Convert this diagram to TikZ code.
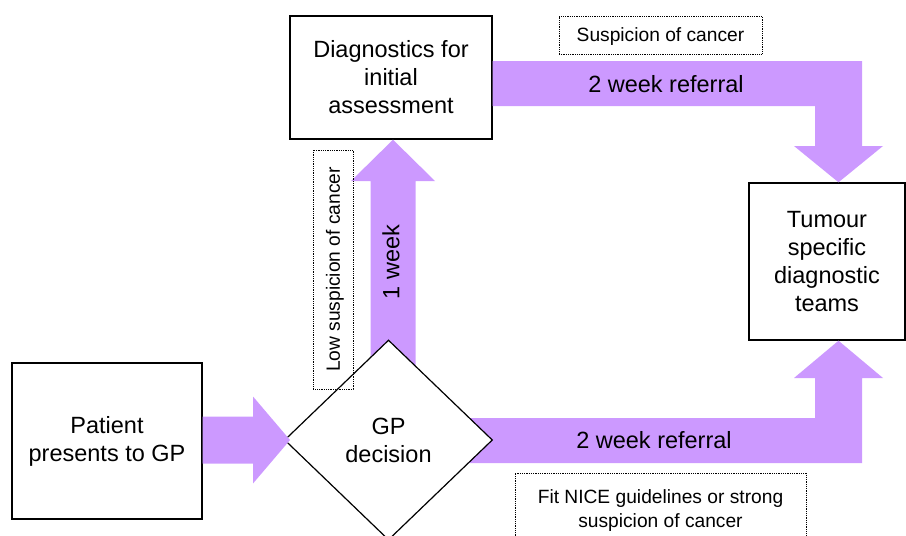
\documentclass[tikz,border=0pt]{standalone}
\usepackage{fontspec}
\setmainfont{Liberation Sans}
\usetikzlibrary{shapes.geometric}
\definecolor{arrowfill}{RGB}{204,153,255}
\tikzset{
  x=1pt, y=-1pt,
  bigtext/.style={font=\fontsize{23.5}{28}\selectfont, align=center},
  smalltext/.style={font=\fontsize{19.2}{24}\selectfont, align=center},
  stagebox/.style={bigtext, draw=black, line width=1.4pt, fill=white,
    inner sep=0pt},
  decisionbox/.style={bigtext, diamond, draw=black, line width=1.2pt,
    fill=white, inner sep=0pt, minimum width=208pt, minimum height=200pt},
  notebox/.style={smalltext, draw=black, densely dotted, line width=0.8pt,
    inner sep=0pt, text depth=0pt},
  blockarrow/.style={fill=arrowfill, draw=none},
}
\begin{document}
\begin{tikzpicture}
\useasboundingbox (0,0) rectangle (906,536);

% stage nodes
\node[stagebox, minimum width=190pt, minimum height=156pt] (patient) at (107,441)
  {Patient\\presents to GP};
\node[stagebox, minimum width=202pt, minimum height=123pt] (diag) at (391,77.5)
  {Diagnostics for\\initial\\assessment};
\node[stagebox, minimum width=156pt, minimum height=157pt] (tumour) at (827,261.5)
  {Tumour\\specific\\diagnostic\\teams};

% block arrows that run behind the decision node
% GP decision -> initial diagnostics (1 week)
\fill[blockarrow] (370.5,380) -- (370.5,181) -- (351,181) -- (diag.south -| 393,0)
  -- (435,181) -- (415.5,181) -- (415.5,380) -- cycle;
% GP decision -> tumour teams (2 week referral)
\fill[blockarrow] (440,463) -- (862,463) -- (862,378) -- (883,378)
  -- (tumour.south -| 838.5,0) -- (794,378) -- (815,378) -- (815,418)
  -- (440,418) -- cycle;
% initial diagnostics -> tumour teams (2 week referral)
\fill[blockarrow] (diag.east |- 0,61) -- (862,61) -- (862,146) -- (883,146)
  -- (tumour.north -| 838.5,0) -- (794,146) -- (815,146) -- (815,106)
  -- (diag.east |- 0,106) -- cycle;

% decision node
\node[decisionbox] (gp) at (388.5,440) {GP\\decision};

% patient -> GP decision
\fill[blockarrow] (patient.east |- 0,416.5) -- (253,416.5) -- (253,396.5)
  -- (290,440) -- (253,483.5) -- (253,463.5) -- (patient.east |- 0,463.5) -- cycle;

% arrow labels
\node[bigtext] (lbltop) at (666,84.5) {2 week referral};
\node[bigtext] (lblbottom) at (654,440.5) {2 week referral};
\node[bigtext, rotate=90] (lblweek) at (391,262) {1 week};

% condition notes
\node[notebox, minimum width=203pt, minimum height=38pt] (susp) at (660.5,35)
  {Suspicion of cancer};
\node[notebox, minimum width=291pt, minimum height=72pt] (nice) at (660.5,509)
  {Fit NICE guidelines or strong\\suspicion of cancer};
\node[notebox, rotate=90, minimum width=239pt, minimum height=40pt] (low) at (333,269.5)
  {Low suspicion of cancer};
\end{tikzpicture}
\end{document}
